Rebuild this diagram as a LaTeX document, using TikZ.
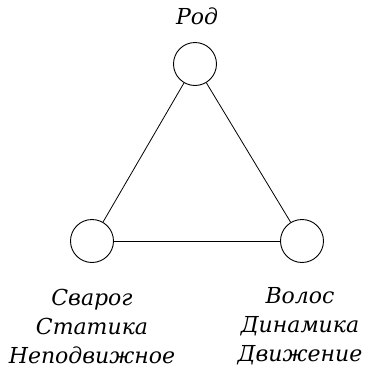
\documentclass[tikz,border=0pt]{standalone}
\usepackage{fontspec}
\setmainfont{DejaVu Serif}
\usepackage{tikz}

\tikzset{
  god/.style={draw, circle, line width=0.9pt, minimum size=43pt, inner sep=0pt},
  gname/.style={font=\fontsize{22}{29}\selectfont\itshape, align=center}
}

\begin{document}
\begin{tikzpicture}[x=1pt,y=-1pt]
  \useasboundingbox (0,0) rectangle (376,375);
  \node[god] (rod) at (195,64) {};
  \node[god] (svarog) at (92,241) {};
  \node[god] (volos) at (302,241) {};
  \draw[line width=0.8pt] (rod) -- (svarog);
  \draw[line width=0.8pt] (rod) -- (volos);
  \draw[line width=0.8pt] (svarog) -- (volos);
  \node[gname] (rodlab) at (197,16) {Род};
  \node[gname] (svaroglab) at (92,326) {Сварог\\Статика\\Неподвижное};
  \node[gname] (voloslab) at (300,326) {Волос\\Динамика\\Движение};
\end{tikzpicture}
\end{document}
